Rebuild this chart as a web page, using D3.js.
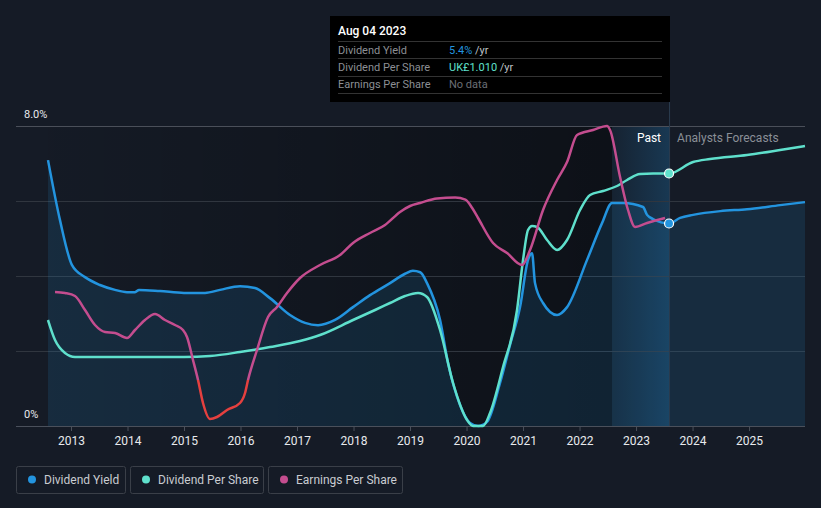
<!DOCTYPE html>
<html><head><meta charset="utf-8">
<script src="https://cdn.jsdelivr.net/npm/d3@7"></script>
<style>
html,body{margin:0;padding:0;background:#151b26;}
svg{display:block;font-family:Roboto,"Noto Sans",sans-serif;}
</style></head>
<body>
<svg id="c" width="821" height="508"></svg>
<script>
// ---- data ----
const yearTicks = [2013,2014,2015,2016,2017,2018,2019,2020,2021,2022,2023,2024,2025];
const yTickLabels = [{v:0,t:"0%"},{v:8,t:"8.0%"}];
const gridValues = [0,2,4,6,8];
// Dividend Yield (%)
const yieldPast = [[2012.593,7.09],[2012.805,5.49],[2013.018,4.29],[2013.248,3.97],[2013.513,3.76],[2013.779,3.63],[2013.991,3.57],[2014.133,3.57],[2014.204,3.63],[2014.575,3.60],[2015.0,3.55],[2015.372,3.55],[2015.637,3.63],[2015.991,3.73],[2016.257,3.68],[2016.522,3.41],[2016.876,2.96],[2017.142,2.75],[2017.372,2.69],[2017.673,2.83],[2017.991,3.17],[2018.292,3.49],[2018.646,3.81],[2018.912,4.06],[2019.05,4.14],[2019.18,4.1],[2019.301,3.81],[2019.531,2.83],[2019.673,1.68],[2019.885,0.56],[2020.062,0.08],[2020.204,0.0],[2020.363,0.11],[2020.593,1.15],[2020.770,2.16],[2020.947,3.17],[2021.088,4.43],[2021.159,4.61],[2021.212,3.81],[2021.354,3.28],[2021.602,2.96],[2021.779,3.17],[2022.133,4.43],[2022.398,5.41],[2022.575,5.95],[2022.770,5.95],[2023.124,5.84],[2023.195,5.63],[2023.301,5.52],[2023.584,5.4]];
const yieldForecast = [[2023.584,5.4],[2023.78,5.55],[2024.009,5.63],[2024.49,5.73],[2024.965,5.78],[2025.55,5.89],[2025.99,5.97]];
// Dividend Per Share (UK£)
const dpsPast = [[2012.593,0.424],[2012.717,0.344],[2012.894,0.292],[2013.071,0.276],[2013.513,0.276],[2015.0,0.276],[2015.46,0.280],[2015.991,0.296],[2016.522,0.316],[2017.053,0.340],[2017.407,0.364],[2017.991,0.424],[2018.381,0.464],[2018.646,0.492],[2018.912,0.520],[2019.142,0.532],[2019.301,0.516],[2019.531,0.384],[2019.761,0.172],[2020.009,0.024],[2020.115,0.0],[2020.292,0.0],[2020.416,0.052],[2020.646,0.236],[2020.894,0.464],[2021.0,0.664],[2021.088,0.784],[2021.159,0.800],[2021.248,0.796],[2021.425,0.744],[2021.602,0.704],[2021.779,0.744],[2022.009,0.864],[2022.186,0.924],[2022.416,0.940],[2022.664,0.960],[2022.841,0.984],[2023.071,1.008],[2023.301,1.010],[2023.584,1.010]];
const dpsForecast = [[2023.584,1.010],[2024.009,1.056],[2024.310,1.068],[2024.965,1.084],[2025.549,1.104],[2025.99,1.120]];
// Earnings Per Share (p)
const epsPast = [[2012.717,44],[2012.894,43.5],[2013.071,42],[2013.248,35],[2013.425,27.5],[2013.602,24],[2013.779,23.5],[2013.991,21],[2014.133,25],[2014.310,30],[2014.487,33],[2014.664,30],[2014.841,27.5],[2014.982,25],[2015.053,21.5],[2015.159,10],[2015.248,0],[2015.336,-11.5],[2015.46,-19.5],[2015.584,-18.5],[2015.761,-15],[2015.991,-11.5],[2016.080,-6.5],[2016.133,0],[2016.292,15],[2016.487,31.5],[2016.646,36.5],[2016.823,43.5],[2017.053,51],[2017.407,57.5],[2017.761,62.5],[2017.991,68.5],[2018.292,73.5],[2018.558,77.5],[2018.823,84],[2019.0,87],[2019.177,88.5],[2019.478,90.8],[2019.8,91.2],[2019.98,90.2],[2020.1,86],[2020.204,81],[2020.469,68.5],[2020.717,63.5],[2020.982,57.5],[2021.124,65],[2021.354,85],[2021.602,100],[2021.779,109],[2021.956,122.5],[2022.239,125],[2022.487,127],[2022.540,125],[2022.717,101.5],[2022.858,85],[2022.982,76.5],[2023.195,78.5],[2023.513,81]];
const tooltipRows = [
  {label:"Dividend Yield", value:"5.4%", unit:" /yr", color:"#2394df"},
  {label:"Dividend Per Share", value:"UK£1.010", unit:" /yr", color:"#5fe0cc"},
  {label:"Earnings Per Share", value:"No data", unit:"", color:"#6b6f76"}
];
const tooltipDate = "Aug 04 2023";
const legendItems = [
  {label:"Dividend Yield", color:"#2394df"},
  {label:"Dividend Per Share", color:"#5fe0cc"},
  {label:"Earnings Per Share", color:"#c44d8f"}
];
const nowYear = 2023.584, bandStart = 2022.575;

// ---- layout ----
const svg = d3.select("#c");
const X0 = 48, X1 = 805, GL = 16, YT = 126, YB = 426;
const x = d3.scaleLinear().domain([2012.593, 2025.99]).range([X0, X1]);
const y = d3.scaleLinear().domain([0, 8]).range([YB, YT]);
const yD = d3.scaleLinear().domain([0, 1.2]).range([YB, YT]);
const yE = d3.scaleLinear().domain([-23, 127]).range([YB, YT]);

const defs = svg.append("defs");
const gp = defs.append("linearGradient").attr("id","past").attr("x1",0).attr("x2",1).attr("y1",0).attr("y2",0);
gp.append("stop").attr("offset",0).attr("stop-color","#000").attr("stop-opacity",0.02);
gp.append("stop").attr("offset",1).attr("stop-color","#000").attr("stop-opacity",0.38);
const gb = defs.append("linearGradient").attr("id","band").attr("x1",0).attr("x2",1).attr("y1",0).attr("y2",0);
gb.append("stop").attr("offset",0).attr("stop-color","#2394df").attr("stop-opacity",0.06);
gb.append("stop").attr("offset",1).attr("stop-color","#2394df").attr("stop-opacity",0.24);

svg.append("rect").attr("width",821).attr("height",508).attr("fill","#151b26");
svg.append("rect").attr("x",X0).attr("y",YT).attr("width",x(bandStart)-X0).attr("height",YB-YT).attr("fill","url(#past)");
svg.append("rect").attr("x",x(bandStart)).attr("y",YT).attr("width",x(nowYear)-x(bandStart)).attr("height",YB-YT).attr("fill","url(#band)");

// grid
svg.append("g").selectAll("line").data(gridValues).join("line")
  .attr("x1",GL).attr("x2",X1).attr("y1",d=>y(d)+0.5).attr("y2",d=>y(d)+0.5)
  .attr("stroke",d=>d===8?"#4a4f59":"#30363f").attr("stroke-width",1);

// area under yield
const allYield = yieldPast.concat(yieldForecast.slice(1));
const area = d3.area().x(d=>x(d[0])).y0(YB).y1(d=>y(d[1])).curve(d3.curveMonotoneX);
svg.append("path").datum(allYield).attr("d",area).attr("fill","#2394df").attr("fill-opacity",0.14);

// axis
const xAxis = d3.axisBottom(x).tickValues(yearTicks).tickFormat(d3.format("d")).tickSize(5).tickPadding(5);
const ax = svg.append("g").attr("transform",`translate(0,${YB})`).call(xAxis);
ax.select(".domain").remove();
ax.selectAll(".tick line").attr("stroke","#4a505b");
ax.selectAll(".tick text").attr("fill","#e8eaed").attr("font-size",12).attr("font-family","Roboto,sans-serif");
svg.append("line").attr("x1",GL).attr("x2",X1).attr("y1",YB+0.5).attr("y2",YB+0.5).attr("stroke","#4a505b");

svg.append("g").selectAll("text").data(yTickLabels).join("text")
  .attr("x",24).attr("y",d=>y(d.v)-8).attr("fill","#e8eaed").attr("font-size",11).text(d=>d.t);

// now line
svg.append("line").attr("x1",x(nowYear)+0.5).attr("x2",x(nowYear)+0.5).attr("y1",101).attr("y2",YB)
  .attr("stroke","#2b3c4f").attr("stroke-width",1);

// lines
const lineY = d3.line().x(d=>x(d[0])).y(d=>y(d[1])).curve(d3.curveMonotoneX);
const lineD = d3.line().x(d=>x(d[0])).y(d=>yD(d[1])).curve(d3.curveMonotoneX);
const lineE = d3.line().x(d=>x(d[0])).y(d=>yE(d[1])).curve(d3.curveMonotoneX);
svg.append("path").datum(allYield).attr("d",lineY).attr("fill","none").attr("stroke","#2394df").attr("stroke-width",2.5);
svg.append("path").datum(dpsPast.concat(dpsForecast.slice(1))).attr("d",lineD).attr("fill","none").attr("stroke","#5fe0cc").attr("stroke-width",2.5);

defs.append("clipPath").attr("id","pos").append("rect").attr("x",0).attr("y",0).attr("width",821).attr("height",yE(0));
defs.append("clipPath").attr("id","neg").append("rect").attr("x",0).attr("y",yE(0)).attr("width",821).attr("height",508-yE(0));
svg.append("path").datum(epsPast).attr("d",lineE).attr("fill","none").attr("stroke","#c44d8f").attr("stroke-width",2.5).attr("clip-path","url(#pos)");
svg.append("path").datum(epsPast).attr("d",lineE).attr("fill","none").attr("stroke","#e5403f").attr("stroke-width",2.5).attr("clip-path","url(#neg)");

// dots
svg.append("circle").attr("cx",x(nowYear)).attr("cy",yD(1.010)).attr("r",4.5).attr("fill","#5fe0cc").attr("stroke","#fff").attr("stroke-width",1.2);
svg.append("circle").attr("cx",x(nowYear)).attr("cy",y(5.4)).attr("r",4.5).attr("fill","#2394df").attr("stroke","#fff").attr("stroke-width",1.2);

// Past / Forecast labels
svg.append("text").attr("x",x(nowYear)-8).attr("y",142).attr("text-anchor","end").attr("fill","#fff").attr("font-size",12).text("Past");
svg.append("text").attr("x",x(nowYear)+8).attr("y",142).attr("fill","#8a8f97").attr("font-size",12).text("Analysts Forecasts");

// tooltip
const tt = svg.append("g");
tt.append("rect").attr("x",330).attr("y",16).attr("width",340).attr("height",86).attr("fill","#000");
tt.append("text").attr("x",338).attr("y",35).attr("fill","#fff").attr("font-size",12).attr("font-weight",500).text(tooltipDate);
const sepY = [41.5,58.5,76.5,93.5];
tt.selectAll("line").data(sepY).join("line").attr("x1",338).attr("x2",662).attr("y1",d=>d).attr("y2",d=>d).attr("stroke","#333");
tooltipRows.forEach((r,i)=>{
  const by = 53.5 + i*17.3;
  tt.append("text").attr("x",338).attr("y",by).attr("fill","#8c8f94").attr("font-size",11).text(r.label);
  const t = tt.append("text").attr("x",449).attr("y",by).attr("font-size",11);
  t.append("tspan").attr("fill",r.color).text(r.value);
  t.append("tspan").attr("fill","#bfc2c6").text(r.unit);
});

// legend
const widths = [110,134,135];
let lx = 16;
legendItems.forEach((d,i)=>{
  const g = svg.append("g").attr("transform",`translate(${lx},466)`);
  g.append("rect").attr("x",0.5).attr("y",0.5).attr("width",widths[i]-1).attr("height",27).attr("rx",2).attr("fill","none").attr("stroke","#3a3f48");
  g.append("circle").attr("cx",16).attr("cy",13.5).attr("r",4).attr("fill",d.color);
  g.append("text").attr("x",28).attr("y",18).attr("fill","#c9ccd1").attr("font-size",12).text(d.label);
  lx += widths[i] + 4;
});
</script>
</body></html>
